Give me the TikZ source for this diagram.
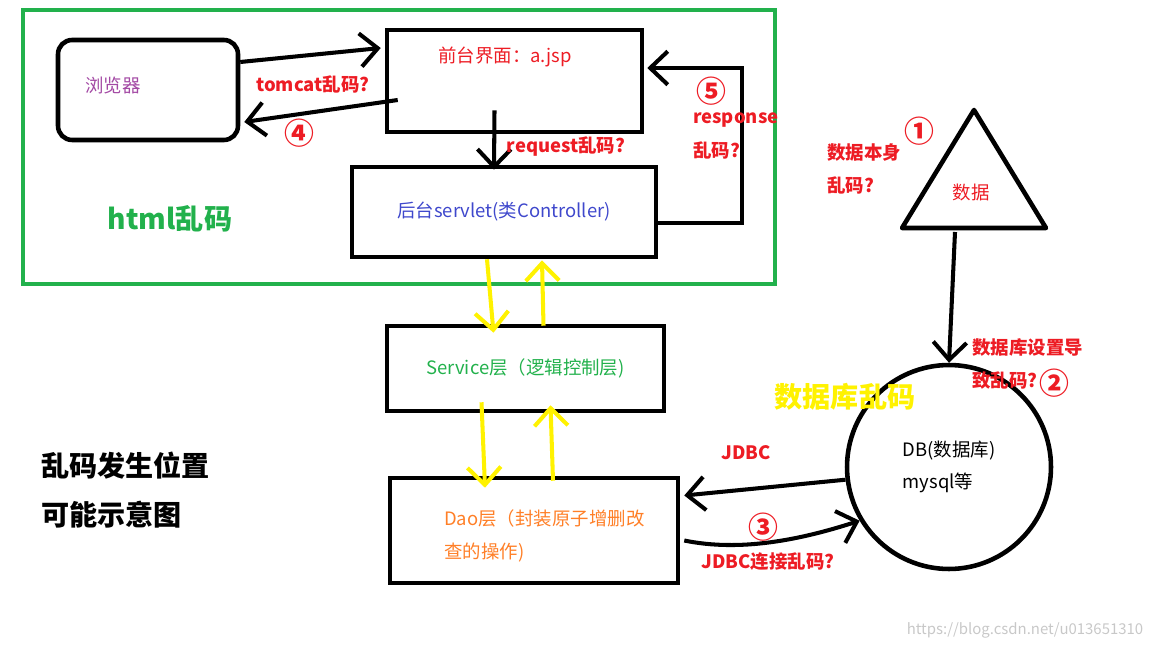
\documentclass[tikz,border=0pt]{standalone}
\usepackage{fontspec}
\setmainfont{Noto Sans CJK SC}
\usetikzlibrary{arrows.meta, calc}
\definecolor{clrframe}{HTML}{22B14C}
\definecolor{clrhint}{HTML}{ED1C24}
\definecolor{clrbrowser}{HTML}{A349A4}
\definecolor{clrservlet}{HTML}{3F48CC}
\definecolor{clrdao}{HTML}{FF7F27}
\definecolor{clrflow}{HTML}{FFF200}
\definecolor{clrmark}{HTML}{C8C8C8}

\begin{document}
\begin{tikzpicture}[
    x=0.02cm, y=-0.02cm,
    >={Straight Barb[length=10pt, width=19pt]},
    every node/.style={font=\fontsize{10.5}{18.5}\selectfont},
    box/.style={draw=black, line width=2.6pt, inner sep=0pt},
    arrow/.style={->, line width=2.3pt, color=black},
    flowarrow/.style={->, line width=2.3pt, color=clrflow},
    hint/.style={font=\fontsize{10.5}{19}\selectfont\bfseries, text=clrhint},
    circnum/.style={font=\fontsize{17}{17}\selectfont\bfseries, text=clrhint, inner sep=0pt},
    title/.style={font=\fontsize{16}{28}\selectfont\bfseries},
]
\useasboundingbox (0,0) rectangle (1152,648);
% html part
\draw[clrframe, line width=1.8pt] (23,10) rectangle (775,284);
\node[box, rounded corners=8pt, minimum width=3.6cm, minimum height=2.0cm] (browser) at (148,90) {};
\node[text=clrbrowser] (browser_text) at (113,86) {浏览器};
\node[box, minimum width=5.1cm, minimum height=2.04cm] (jsp) at (514.5,81) {};
\node[text=clrhint] (jsp_text) at (505,57) {前台界面：a.jsp};
\node[box, minimum width=6.08cm, minimum height=1.8cm, text=clrservlet] (servlet) at (504,212) {后台servlet(类Controller)};
\node[title, text=clrframe] (html_title) at (170,219) {html乱码};
% layers
\node[box, minimum width=5.54cm, minimum height=1.7cm, text=clrframe] (service) at (525.5,368.5) {Service层（逻辑控制层)};
\node[box, minimum width=5.76cm, minimum height=2.1cm] (dao) at (534,530.5) {};
\node[text=clrdao, align=left, anchor=west] (dao_text) at (438,536) {Dao层（封装原子增删改\\查的操作)};
% database
\draw[line width=2.6pt, line join=round] (974,110) -- (1046,228) -- (902,228) -- cycle;
\node[text=clrhint] (data) at (971,193) {数据};
\coordinate (tri_base) at (955,232);
\node[draw=black, line width=2.6pt, circle, minimum size=4.08cm, align=left] (db) at (949,467) {DB(数据库)\\mysql等};
% black arrows
\draw[arrow] ($(browser.east)+(0,-28)$) -- ($(jsp.west)+(-4,-33)$);
\draw[arrow] ($(jsp.west)+(13,19)$) -- ($(browser.east)+(4,32)$);
\draw[arrow] ($(jsp.south)+(-20,-24)$) -- ($(servlet.north)+(-10,5)$);
\draw[arrow] ($(servlet.east)+(0,11)$) -- ++(84,0) |- ($(jsp.east)+(3,-13)$);
\draw[arrow] (tri_base) -- (db.north);
\draw[arrow] (db.187) -- ($(dao.east)+(4,-35)$);
\draw[arrow] ($(dao.east)+(4,10)$) .. controls (740,552) and (800,540) .. (db.211);
% yellow arrows
\draw[flowarrow] ($(servlet.south)+(-17,0)$) -- ($(service.north)+(-32,9)$);
\draw[flowarrow] ($(service.north)+(18,2)$) -- ($(servlet.south)+(38,1)$);
\draw[flowarrow] ($(service.south)+(-44,-11)$) -- ($(dao.north)+(-49,12)$);
\draw[flowarrow] ($(dao.north)+(19,5)$) -- ($(service.south)+(25,-8)$);
% hints
\node[hint] (hint_tomcat) at (313,84) {tomcat乱码?};
\node[circnum] (num_4) at (299,133) {④};
\node[hint] (hint_request) at (566,147) {request乱码?};
\node[circnum] (num_5) at (711,91) {⑤};
\node[hint, anchor=west, align=left] (hint_response) at (687,136) {response\\乱码?};
\node[circnum] (num_1) at (919,131) {①};
\node[hint, anchor=west, align=left] (hint_data) at (821,169) {数据本身\\乱码?};
\node[hint, anchor=west, align=left] (hint_dbset) at (966,364) {数据库设置导\\致乱码?};
\node[circnum] (num_2) at (1054,383) {②};
\node[title, text=clrflow] (db_title) at (845,397) {数据库乱码};
\node[hint] (hint_jdbc) at (746,453) {JDBC};
\node[circnum] (num_3) at (763,527) {③};
\node[hint] (hint_conn) at (768,562) {JDBC连接乱码?};
\node[title, anchor=west, align=left] (main_title) at (35,490) {乱码发生位置\\可能示意图};
\node[text=clrmark, font=\fontsize{8.5}{10}\selectfont] (watermark) at (1025,630) {https://blog.csdn.net/u013651310};
\end{tikzpicture}
\end{document}
